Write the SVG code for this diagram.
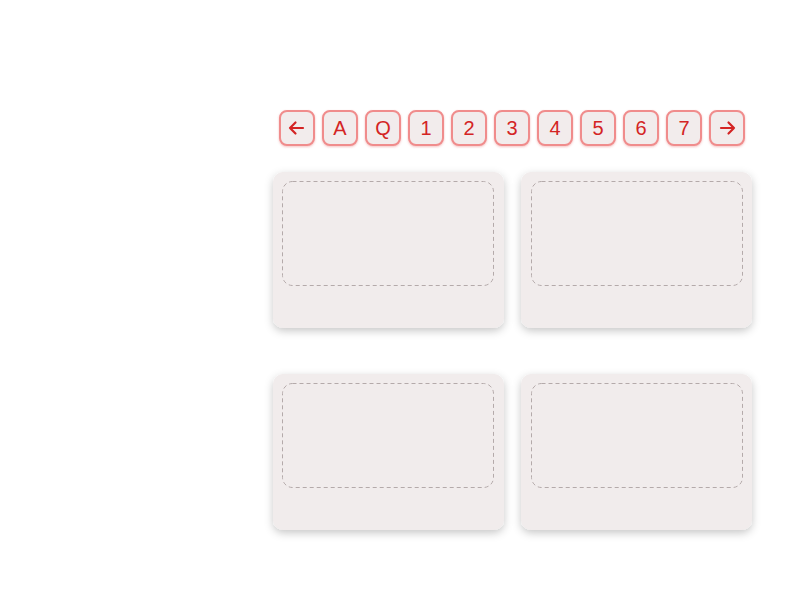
<svg xmlns="http://www.w3.org/2000/svg" width="800" height="600" viewBox="0 0 800 600">
<defs>
<filter id="sh" x="-10%" y="-10%" width="120%" height="130%">
<feDropShadow dx="0" dy="3" stdDeviation="4" flood-color="#000" flood-opacity="0.22"/>
</filter>
<filter id="bsh" x="-20%" y="-20%" width="140%" height="140%">
<feDropShadow dx="0" dy="1" stdDeviation="0.8" flood-color="#e05050" flood-opacity="0.35"/>
</filter>
</defs>
<style>
.btn{fill:#f2ecec;stroke:#f08c8c;stroke-width:2}
.bt{font-family:"Liberation Sans",Arial,sans-serif;font-size:20px;fill:#d42424;text-anchor:middle}
.card{fill:#f1ecec}
.slot{fill:none;stroke:#b4aaaa;stroke-width:1;stroke-dasharray:4 3}
.arr{fill:none;stroke:#d42424;stroke-width:2.2;stroke-linecap:round;stroke-linejoin:round}
</style>
<rect width="800" height="600" fill="#fff"/>
<g id="pager">
<g id="btn-prev"><rect class="btn" x="280" y="111" width="34" height="34" rx="7" filter="url(#bsh)"/><path class="arr" d="M303 128H290M295.5 122.5L290 128L295.5 133.5"/></g>
<g id="btn-A"><rect class="btn" x="323" y="111" width="34" height="34" rx="7" filter="url(#bsh)"/><text class="bt" x="340" y="135">A</text></g>
<g id="btn-Q"><rect class="btn" x="366" y="111" width="34" height="34" rx="7" filter="url(#bsh)"/><text class="bt" x="383" y="135">Q</text></g>
<g id="btn-1"><rect class="btn" x="409" y="111" width="34" height="34" rx="7" filter="url(#bsh)"/><text class="bt" x="426" y="135">1</text></g>
<g id="btn-2"><rect class="btn" x="452" y="111" width="34" height="34" rx="7" filter="url(#bsh)"/><text class="bt" x="469" y="135">2</text></g>
<g id="btn-3"><rect class="btn" x="495" y="111" width="34" height="34" rx="7" filter="url(#bsh)"/><text class="bt" x="512" y="135">3</text></g>
<g id="btn-4"><rect class="btn" x="538" y="111" width="34" height="34" rx="7" filter="url(#bsh)"/><text class="bt" x="555" y="135">4</text></g>
<g id="btn-5"><rect class="btn" x="581" y="111" width="34" height="34" rx="7" filter="url(#bsh)"/><text class="bt" x="598" y="135">5</text></g>
<g id="btn-6"><rect class="btn" x="624" y="111" width="34" height="34" rx="7" filter="url(#bsh)"/><text class="bt" x="641" y="135">6</text></g>
<g id="btn-7"><rect class="btn" x="667" y="111" width="34" height="34" rx="7" filter="url(#bsh)"/><text class="bt" x="684" y="135">7</text></g>
<g id="btn-next"><rect class="btn" x="710" y="111" width="34" height="34" rx="7" filter="url(#bsh)"/><path class="arr" d="M721 128H734M728.5 122.5L734 128L728.5 133.5"/></g>
</g>
<g id="card-1"><rect class="card" x="273" y="172" width="231" height="156" rx="10" filter="url(#sh)"/><rect class="slot" x="282.5" y="181.5" width="211" height="104" rx="10"/></g>
<g id="card-2"><rect class="card" x="521" y="172" width="231" height="156" rx="10" filter="url(#sh)"/><rect class="slot" x="531.5" y="181.5" width="211" height="104" rx="10"/></g>
<g id="card-3"><rect class="card" x="273" y="374" width="231" height="156" rx="10" filter="url(#sh)"/><rect class="slot" x="282.5" y="383.5" width="211" height="104" rx="10"/></g>
<g id="card-4"><rect class="card" x="521" y="374" width="231" height="156" rx="10" filter="url(#sh)"/><rect class="slot" x="531.5" y="383.5" width="211" height="104" rx="10"/></g>
<g id="connectors"></g>
</svg>
